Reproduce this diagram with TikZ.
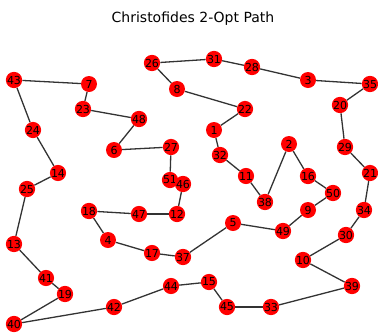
\documentclass[tikz,border=0pt]{standalone}
\usepackage{fontspec}
\setmainfont{DejaVu Sans}
\pgfdeclarelayer{background}
\pgfsetlayers{background,main}
\begin{document}
\begin{tikzpicture}[x=1pt,y=-1pt,
  city/.style={circle,fill=red,draw=none,minimum size=16pt,inner sep=0pt,font=\fontsize{11}{11}\selectfont,text=black},
  tour/.style={draw=black!80,line width=1.3pt}]
\useasboundingbox (0,0) rectangle (378,333);
\node[font=\fontsize{14}{14}\selectfont] (title) at (193,18.5) {Christofides 2-Opt Path};
\foreach \n/\x/\y in {43/14/80,7/89/84,23/83/109,48/139/119,6/114/150,27/171/147,51/170/180,46/183/184,
  12/177/214,47/139/214,18/89/211,4/108/240,17/152/253,37/183/257,5/233/223,49/283/231,9/308/210,
  50/333/193,16/308/176,2/289/144,38/265/202,11/246/176,32/220/155,1/214/130,22/245/109,8/177/89,
  26/152/63,31/214/59,28/252/67,3/308/80,35/370/84,20/340/105,29/345/147,21/370/173,34/364/210,
  30/346/235,10/303/260,39/352/286,33/271/307,45/227/307,15/209/282,44/171/286,42/114/307,
  40/14/324,19/65/294,41/46/278,13/14/244,25/27/189,14/58/173,24/33/130}
  {\node[city] (n\n) at (\x,\y) {\n};}
\begin{pgfonlayer}{background}
\foreach \a/\b in {43/7,7/23,23/48,48/6,6/27,27/51,51/46,46/12,12/47,47/18,18/4,4/17,17/37,37/5,
  5/49,49/9,9/50,50/16,16/2,2/38,38/11,11/32,32/1,1/22,22/8,8/26,26/31,31/28,28/3,3/35,35/20,
  20/29,29/21,21/34,34/30,30/10,10/39,39/33,33/45,45/15,15/44,44/42,42/40,40/19,19/41,41/13,
  13/25,25/14,14/24,24/43}
  {\draw[tour] (n\a) -- (n\b);}
\end{pgfonlayer}
\end{tikzpicture}
\end{document}
